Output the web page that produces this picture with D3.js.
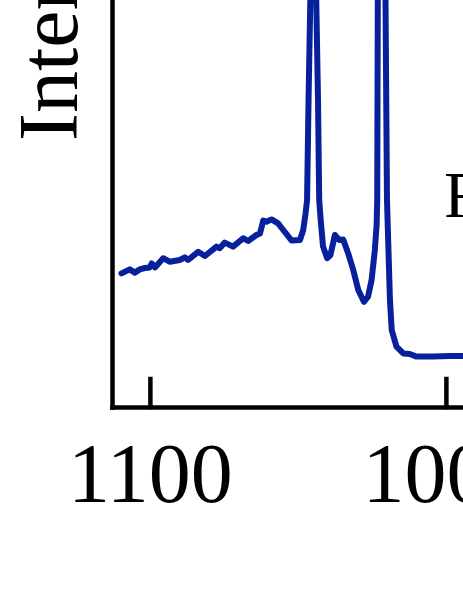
<!DOCTYPE html>
<html>
<head>
<meta charset="utf-8">
<script src="https://cdn.jsdelivr.net/npm/d3@7"></script>
<style>
  body { margin: 0; background: #fff; }
  svg { display: block; }
</style>
</head>
<body>
<svg id="chart" width="463" height="599"></svg>
<script>
// spectrum (wavenumber, intensity a.u.)
var wavenumber = [1109.6, 1106.8, 1105.1, 1103.4, 1101.7, 1100.0, 1099.4, 1098.3, 1095.5, 1093.2,
  1089.9, 1088.2, 1087.1, 1083.7, 1081.4, 1077.5, 1076.4, 1074.7, 1071.9, 1068.5,
  1066.8, 1064.0, 1062.8, 1061.7, 1060.6, 1058.9, 1056.7, 1054.4, 1052.1, 1049.3,
  1048.2, 1047.4, 1046.9, 1046.4, 1045.8, 1045.2, 1044.8, 1044.3, 1043.8, 1043.2,
  1042.8, 1042.3, 1041.5, 1040.1, 1039.0, 1037.5, 1036.0, 1034.7, 1033.0, 1031.3,
  1029.6, 1027.7, 1026.3, 1025.1, 1024.0, 1023.4, 1023.2, 1023.0, 1022.6, 1021.8,
  1021.0, 1020.4, 1019.9, 1019.4, 1018.9, 1018.3, 1016.7, 1014.4, 1012.2, 1009.9,
  1004.3, 998.6, 994.3, 988.5];
var intensity = [33.4, 34.4, 33.6, 34.4, 34.75, 34.9, 35.9, 34.9, 37.2, 36.3,
  36.75, 37.4, 36.75, 38.8, 37.75, 40.1, 39.7, 41.1, 40.1, 42.2,
  41.5, 43.0, 43.4, 46.6, 46.3, 46.9, 45.9, 43.75, 41.6, 41.75,
  44.25, 48.4, 51.75, 76.75, 101.75, 126.75, 141.75, 126.75, 101.75, 76.75,
  51.75, 46.75, 40.1, 37.2, 38.0, 43.0, 41.75, 41.9, 38.4, 34.25,
  29.25, 26.3, 27.6, 31.75, 39.25, 45.5, 51.75, 101.75, 151.75, 206.75,
  151.75, 101.75, 51.75, 39.25, 26.75, 19.25, 15.1, 13.4, 13.25, 12.6,
  12.6, 12.75, 12.75, 12.6];
var xTicks = [1100, 1000];
var yLabel = "Intensity (a.u.)";
var sampleLabel = "F";

var width = 520, height = 1040;
var margin = {left: 112, top: 407 - height};
var font = "'Liberation Serif', 'Times New Roman', serif";

var svg = d3.select("#chart")
  .append("g")
    .attr("transform", "translate(" + margin.left + "," + margin.top + ")");

var x = d3.scaleLinear()
    .domain([1112.8, 1112.8 - width / 2.96])
    .range([0, width]);

var y = d3.scaleLinear()
    .domain([0, 260])
    .range([height, 0]);

var data = wavenumber.map(function(w, i) { return {w: w, v: intensity[i]}; });

var line = d3.line()
    .x(function(d) { return x(d.w); })
    .y(function(d) { return y(d.v); });

svg.append("path")
    .datum(data)
    .attr("fill", "none")
    .attr("stroke", "#08209c")
    .attr("stroke-width", 6)
    .attr("stroke-linejoin", "round")
    .attr("stroke-linecap", "round")
    .attr("d", line);

// bottom axis, ticks pointing inward
var xAxis = svg.append("g")
    .attr("transform", "translate(0," + height + ")")
    .call(d3.axisBottom(x).tickValues(xTicks).tickSizeInner(-28).tickSizeOuter(0).tickPadding(35).tickFormat(d3.format("d")));

// left axis, only the line
var yAxis = svg.append("g")
    .call(d3.axisLeft(y).tickValues([]).tickSizeOuter(0));

svg.selectAll(".domain, .tick line")
    .attr("stroke", "#000")
    .attr("stroke-width", 4.5)
    .attr("stroke-linecap", "square");

xAxis.selectAll("text")
    .attr("fill", "#000")
    .style("font-family", font)
    .style("font-size", "84px");

d3.select("#chart").append("text")
    .attr("transform", "translate(77,141) rotate(-90)")
    .style("font-family", font)
    .style("font-size", "84px")
    .attr("fill", "#000")
    .text(yLabel);

d3.select("#chart").append("text")
    .attr("x", 444)
    .attr("y", 217)
    .style("font-family", font)
    .style("font-size", "66px")
    .attr("fill", "#000")
    .text(sampleLabel);
</script>
</body>
</html>
